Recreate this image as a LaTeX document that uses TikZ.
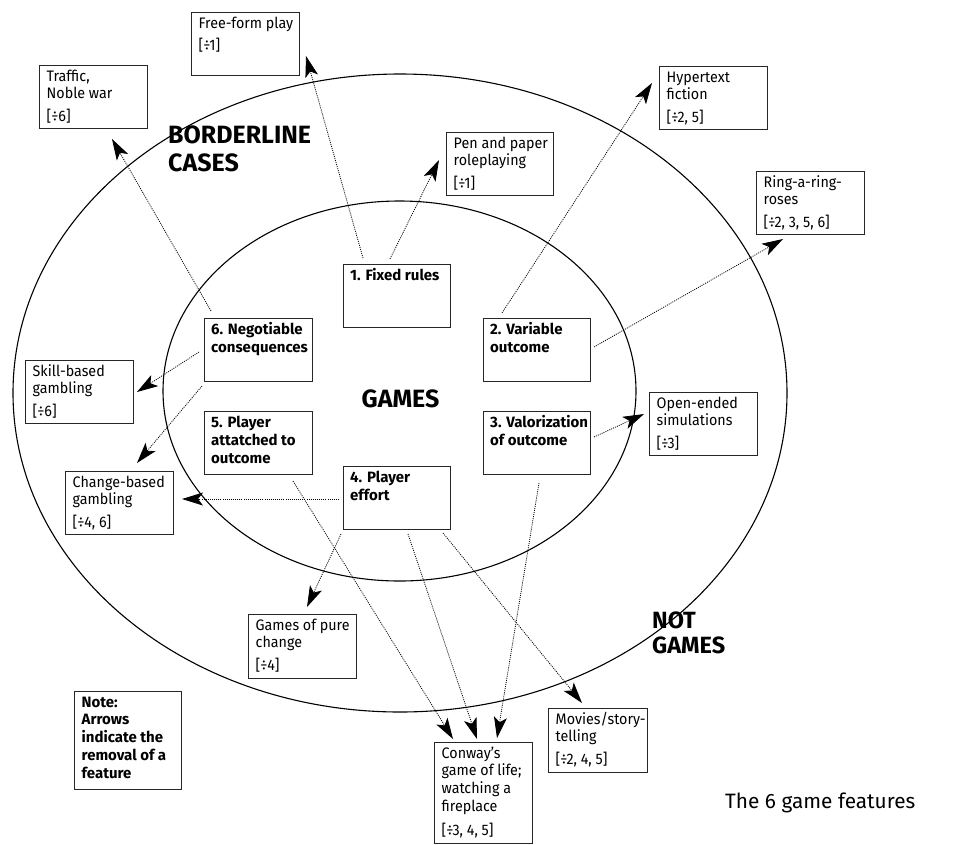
\documentclass[tikz,border=0pt]{standalone}
\usepackage{fontspec}
\setmainfont{Fira Sans}
\newfontfamily\boxfont{Fira Sans}[FakeStretch=0.94]
\usetikzlibrary{arrows.meta}
\begin{document}
\begin{tikzpicture}[x=1pt,y=-1pt,
  box/.style={draw=black!85, line width=1pt, anchor=north west, inner sep=0pt},
  txt/.style={anchor=base west, inner sep=0pt, font=\boxfont\fontsize{15.2}{17.8}\selectfont},
  btxt/.style={anchor=base west, inner sep=0pt, font=\fontsize{15}{18}\selectfont\bfseries},
  big/.style={anchor=base west, inner sep=0pt, align=left, font=\fontsize{25}{27.6}\selectfont\bfseries},
  arr/.style={dash pattern=on 1pt off 1.1pt, line width=0.8pt,
    -{Stealth[length=21pt,width=13pt,inset=5pt]}},
  rim/.style={line width=1.1pt}]
\useasboundingbox (0,0) rectangle (969,844);
% rings
\draw[rim] (400,393) ellipse [x radius=387, y radius=319];
\draw[rim] (399.5,391) ellipse [x radius=236.5, y radius=190];
% region labels
\node[big] (bl) at (168,171) {BORDERLINE\\CASES};
\node[big, anchor=base] (gl) at (400.5,407) {GAMES};
\node[big, font=\fontsize{23.5}{25}\selectfont\bfseries] (ngl) at (652,653) {NOT\\GAMES};
\node[anchor=base west, inner sep=0pt, font=\fontsize{20.8}{24}\selectfont] (cap) at (725,808) {The 6 game features};
% feature boxes
\node[box, minimum width=107pt, minimum height=63pt] (fixed) at (343,264) {};
\node[box, minimum width=108pt, minimum height=63pt] (neg) at (204,318) {};
\node[box, minimum width=107pt, minimum height=63pt] (var) at (483,318) {};
\node[box, minimum width=107pt, minimum height=63pt] (val) at (483,411) {};
\node[box, minimum width=108pt, minimum height=63pt] (att) at (204,411) {};
\node[box, minimum width=107pt, minimum height=63pt] (eff) at (343,466) {};
\node[btxt] at ([xshift=7pt,yshift=-16pt]fixed.north west) {1. Fixed rules};
\node[btxt] at ([xshift=7pt,yshift=-16pt]neg.north west) {\parbox[t]{130pt}{\raggedright 6. Negotiable\\consequences}};
\node[btxt] at ([xshift=7pt,yshift=-16pt]var.north west) {\parbox[t]{130pt}{\raggedright 2. Variable\\outcome}};
\node[btxt] at ([xshift=7pt,yshift=-16pt]val.north west) {\parbox[t]{130pt}{\raggedright 3. Valorization\\of outcome}};
\node[btxt] at ([xshift=7pt,yshift=-16pt]att.north west) {\parbox[t]{130pt}{\raggedright 5. Player\\attatched to\\outcome}};
\node[btxt] at ([xshift=7pt,yshift=-16pt]eff.north west) {\parbox[t]{130pt}{\raggedright 4. Player\\effort}};
% case boxes
\node[box, minimum width=108pt, minimum height=63pt] (free) at (191,12) {};
\node[box, minimum width=108pt, minimum height=63pt] (traffic) at (39,65) {};
\node[box, minimum width=107pt, minimum height=63pt] (pen) at (446,132) {};
\node[box, minimum width=108pt, minimum height=63pt] (hyper) at (659,66) {};
\node[box, minimum width=108pt, minimum height=63pt] (ring) at (756,171) {};
\node[box, minimum width=108pt, minimum height=63pt] (skill) at (25,360) {};
\node[box, minimum width=108pt, minimum height=63pt] (change) at (65,471) {};
\node[box, minimum width=108pt, minimum height=63pt] (open) at (649,392) {};
\node[box, minimum width=108pt, minimum height=64pt] (pure) at (248,614) {};
\node[box, minimum width=107pt, minimum height=98pt] (note) at (74,691) {};
\node[box, minimum width=98pt, minimum height=101pt] (conway) at (434,742) {};
\node[box, minimum width=99pt, minimum height=64pt] (movies) at (548,708) {};
\node[txt] at ([xshift=7.5pt,yshift=-16pt]free.north west) {\parbox[t]{130pt}{\raggedright Free-form play\par\vspace{4.5pt}[÷1]}};
\node[txt] at ([xshift=7.5pt,yshift=-16pt]traffic.north west) {\parbox[t]{130pt}{\raggedright Traffic,\\Noble war\par\vspace{5pt}[÷6]}};
\node[txt] at ([xshift=7.5pt,yshift=-16pt]pen.north west) {\parbox[t]{130pt}{\raggedright Pen and paper\\roleplaying\par\vspace{5pt}[÷1]}};
\node[txt] at ([xshift=7.5pt,yshift=-16pt]hyper.north west) {\parbox[t]{130pt}{\raggedright Hypertext\\fiction\par\vspace{5pt}[÷2, 5]}};
\node[txt] at ([xshift=7.5pt,yshift=-16pt]ring.north west) {\parbox[t]{130pt}{\raggedright Ring-a-ring-\\roses\par\vspace{5pt}[÷2, 3, 5, 6]}};
\node[txt] at ([xshift=7.5pt,yshift=-16pt]skill.north west) {\parbox[t]{130pt}{\raggedright Skill-based\\gambling\par\vspace{5pt}[÷6]}};
\node[txt] at ([xshift=7.5pt,yshift=-16pt]change.north west) {\parbox[t]{130pt}{\raggedright Change-based\\gambling\par\vspace{5pt}[÷4, 6]}};
\node[txt] at ([xshift=7.5pt,yshift=-16pt]open.north west) {\parbox[t]{130pt}{\raggedright Open-ended\\simulations\par\vspace{5pt}[÷3]}};
\node[txt] at ([xshift=7.5pt,yshift=-16pt]pure.north west) {\parbox[t]{130pt}{\raggedright Games of pure\\change\par\vspace{5pt}[÷4]}};
\node[btxt] at ([xshift=7.5pt,yshift=-16pt]note.north west) {\parbox[t]{130pt}{\raggedright\baselineskip=17.8pt Note:\\Arrows\\indicate the\\removal of a\\feature}};
\node[txt] at ([xshift=7.5pt,yshift=-16pt]conway.north west) {\parbox[t]{130pt}{\raggedright Conway’s\\game of life;\\watching a\\fireplace\par\vspace{6pt}[÷3, 4, 5]}};
\node[txt] at ([xshift=7.5pt,yshift=-16pt]movies.north west) {\parbox[t]{130pt}{\raggedright Movies/story-\\telling\par\vspace{5pt}[÷2, 4, 5]}};
% arrow end points
\coordinate (s1) at (363,258);  \coordinate (t1) at (306,56);
\coordinate (s2) at (390,259);  \coordinate (t2) at (439,160);
\coordinate (s3) at (211,311);  \coordinate (t3) at (112,139);
\coordinate (s4) at (502,313);  \coordinate (t4) at (652,83);
\coordinate (s5) at (594,347);  \coordinate (t5) at (783,239);
\coordinate (s6) at (594,437);  \coordinate (t6) at (644,414);
\coordinate (s7) at (199,352);  \coordinate (t7) at (137,392);
\coordinate (s8) at (202,386);  \coordinate (t8) at (137,463);
\coordinate (s9) at (339,499);  \coordinate (t9) at (182,499);
\coordinate (s10) at (341,534); \coordinate (t10) at (307,607);
\coordinate (s11) at (293,481); \coordinate (t11) at (453,739);
\coordinate (s12) at (408,534); \coordinate (t12) at (477,739);
\coordinate (s13) at (539,483); \coordinate (t13) at (497,738);
\coordinate (s14) at (443,533); \coordinate (t14) at (582,703);
\foreach \i in {1,...,14} {\draw[arr] (s\i) -- (t\i);}
\end{tikzpicture}
\end{document}
